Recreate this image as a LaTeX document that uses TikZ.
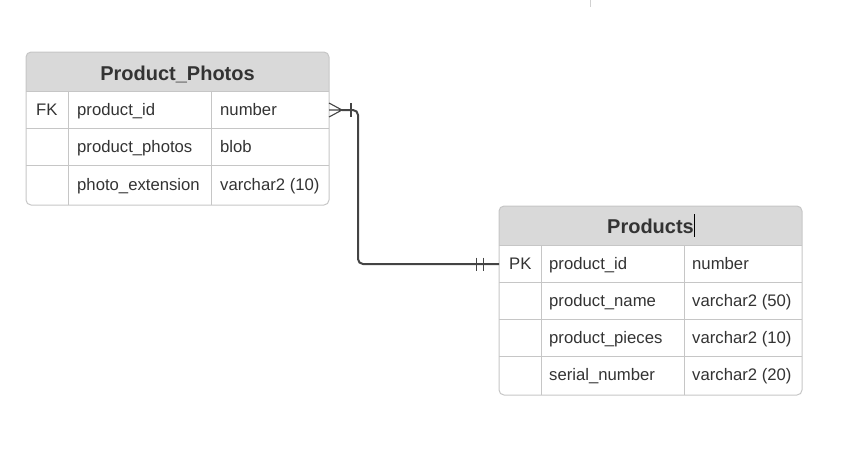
\documentclass[tikz,border=0pt]{standalone}
\usepackage{fontspec}
\setmainfont{Liberation Sans}
\definecolor{hdrc}{HTML}{D9D9D9}
\definecolor{gridc}{HTML}{C6C6C6}
\definecolor{txtc}{HTML}{333333}
\definecolor{relc}{HTML}{444444}
\tikzset{
  tblbox/.style={draw=gridc, line width=1pt, rounded corners=5pt, inner sep=0pt, fill=none},
  cell/.style={anchor=base west, text=txtc, font=\fontsize{16.7}{19}\selectfont, inner sep=0pt},
  hdrtxt/.style={anchor=base, text=txtc, font=\bfseries\fontsize{20}{23}\selectfont, inner sep=0pt},
  gridline/.style={draw=gridc, line width=1pt},
  rel/.style={draw=relc, line width=2pt, rounded corners=5pt},
  relthin/.style={draw=relc, line width=1.1pt},
}
\begin{document}
\begin{tikzpicture}[x=1pt,y=-1pt]
\useasboundingbox (0,0) rectangle (861,451);
\draw[color=gridc!80, line width=1pt] (590,0) -- (590,7);

% ---------- Product_Photos ----------
\begin{scope}
  \path[clip, rounded corners=5pt] (26,52) rectangle (329,205);
  \fill[hdrc] (26,52) rectangle (329,91);
\end{scope}
\draw[gridline] (26,91) -- (329,91) (26,128) -- (329,128) (26,165) -- (329,165)
                (68,91) -- (68,205) (211,91) -- (211,205);
\node[tblbox, minimum width=303pt, minimum height=153pt] (pp) at (177.5,128.5) {};
\node[hdrtxt] (pph) at (177.5,80) {Product\_Photos};
\node[cell] (pp1a) at (36,115.5) {FK};
\node[cell] (pp1b) at (77,115.5) {product\_id};
\node[cell] (pp1c) at (220,115.5) {number};
\node[cell] (pp2b) at (77,152.5) {product\_photos};
\node[cell] (pp2c) at (220,152.5) {blob};
\node[cell] (pp3b) at (77,190.5) {photo\_extension};
\node[cell] (pp3c) at (220,190.5) {varchar2 (10)};

% ---------- Products ----------
\begin{scope}
  \path[clip, rounded corners=5pt] (499,206) rectangle (802,395);
  \fill[hdrc] (499,206) rectangle (802,245);
\end{scope}
\draw[gridline] (499,245) -- (802,245) (499,282) -- (802,282) (499,319) -- (802,319)
                (499,356) -- (802,356)
                (541,245) -- (541,395) (684,245) -- (684,395);
\node[tblbox, minimum width=303pt, minimum height=189pt] (pr) at (650.5,300.5) {};
\node[hdrtxt] (prh) at (650.5,233.5) {Products};
\draw[black, line width=0.8pt] (694,214) -- (694,237);
\node[cell] (pr1a) at (509,269.5) {PK};
\node[cell] (pr1b) at (549,269.5) {product\_id};
\node[cell] (pr1c) at (692,269.5) {number};
\node[cell] (pr2b) at (549,306.5) {product\_name};
\node[cell] (pr2c) at (692,306.5) {varchar2 (50)};
\node[cell] (pr3b) at (549,343.5) {product\_pieces};
\node[cell] (pr3c) at (692,343.5) {varchar2 (10)};
\node[cell] (pr4b) at (549,380.5) {serial\_number};
\node[cell] (pr4c) at (692,380.5) {varchar2 (20)};

% ---------- relation ----------
\coordinate (fkend) at (pp.east |- pp1b);
\coordinate (fkend) at (329,110);
\coordinate (crow) at (342,110);
\coordinate (bend1) at (358,110);
\coordinate (bend2) at (358,264);
\coordinate (pkend) at (499,264);
\draw[relthin] (329,103) -- (crow) -- (329,117) (fkend) -- (crow);
\draw[relthin] (351,103) -- (351,117);
\draw[rel] (crow) -- (bend1) -- (bend2) -- (pkend);
\draw[relthin] (476.5,257.5) -- (476.5,271) (483.5,257.5) -- (483.5,271);
\end{tikzpicture}
\end{document}
